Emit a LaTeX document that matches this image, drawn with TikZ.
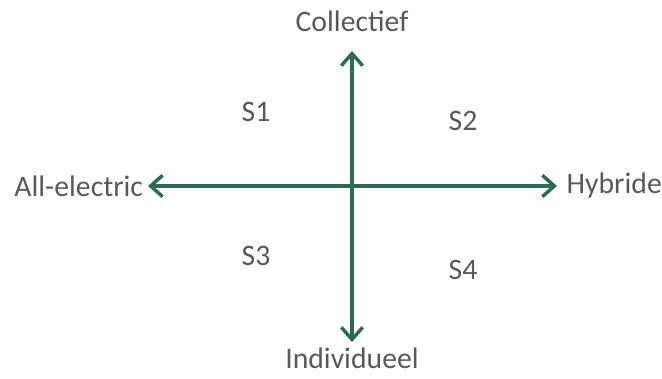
\documentclass[tikz,border=0pt]{standalone}
\usepackage{fontspec}
\setmainfont{Carlito}
\usepackage{tikz}
\usetikzlibrary{arrows.meta, positioning}
\definecolor{axisgreen}{HTML}{2D6A53}
\definecolor{labelgray}{HTML}{595959}

\begin{document}
\begin{tikzpicture}[
  x=0.75pt, y=-0.75pt,
  lbl/.style={text=labelgray, font=\fontsize{22.3}{26}\selectfont, inner sep=1pt},
  axis/.style={{Straight Barb[length=9pt, width=16pt, line width=2.6pt]}-{Straight Barb[length=9pt, width=16pt, line width=2.6pt]}, draw=axisgreen, line width=2.6pt}
]
\useasboundingbox (0,0) rectangle (662,379);

\coordinate (top) at (352,51);
\coordinate (bot) at (352,342);
\coordinate (left) at (148,186);
\coordinate (right) at (557,186);

\node[lbl, above=13pt of top] (coll) {Collectief};
\node[lbl, below=3pt of bot] (indiv) {Individueel};
\node[lbl, left=2.5pt of left] (allel) {All-electric};
\node[lbl, right=6pt of right] (hyb) {Hybride};

\node[lbl] (s1) at (256,112) {S1};
\node[lbl] (s2) at (463,121) {S2};
\node[lbl] (s3) at (256,256) {S3};
\node[lbl] (s4) at (463,270) {S4};

\draw[axis] (bot) -- (top);
\draw[axis] (left) -- (right);

\end{tikzpicture}
\end{document}
